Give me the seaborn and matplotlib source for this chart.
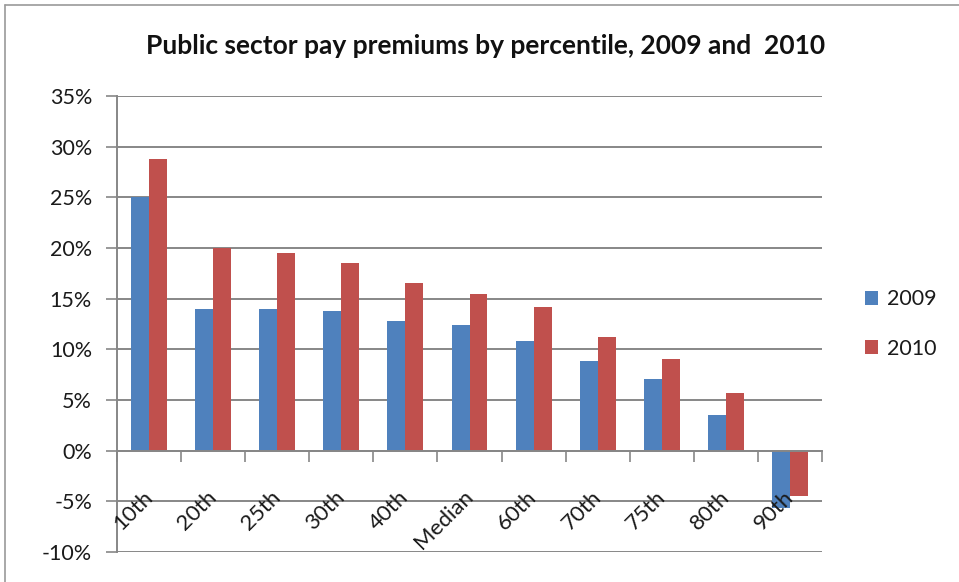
import numpy as np
import pandas as pd
import matplotlib
matplotlib.use("Agg")
import matplotlib.pyplot as plt
from matplotlib.lines import Line2D
from matplotlib.ticker import FuncFormatter
from matplotlib.transforms import ScaledTranslation
import seaborn as sns

# Public sector pay premium (%) by percentile of the pay distribution
percentiles = ["10th", "20th", "25th", "30th", "40th", "Median",
               "60th", "70th", "75th", "80th", "90th"]
premium_2009 = [25.0, 14.0, 14.0, 13.8, 12.8, 12.4, 10.8, 8.8, 7.1, 3.5, -5.7]
premium_2010 = [28.8, 20.0, 19.5, 18.5, 16.5, 15.5, 14.2, 11.2, 9.0, 5.7, -4.5]
years = ["2009", "2010"]
y_ticks = [-10, -5, 0, 5, 10, 15, 20, 25, 30, 35]

df = pd.DataFrame({
    "percentile": percentiles * 2,
    "premium": premium_2009 + premium_2010,
    "year": [years[0]] * len(percentiles) + [years[1]] * len(percentiles),
})

sns.set_style("white")
plt.rcParams["font.family"] = ["Lato", "DejaVu Sans"]
plt.rcParams["axes.unicode_minus"] = False

GRID = "#878787"
TEXT = "#1a1a1a"
fig = plt.figure(figsize=(9.59, 5.82), dpi=100)
ax = fig.add_axes([117 / 959, 1 - 552 / 582, (822 - 117) / 959, (552 - 96) / 582])

sns.barplot(data=df, x="percentile", y="premium", hue="year",
            palette={"2009": "#4F81BD", "2010": "#C0504D"},
            width=0.56, linewidth=0, saturation=1, ax=ax, zorder=1.5)

ax.set_ylim(y_ticks[0], y_ticks[-1])
ax.set_xlim(-0.5, len(percentiles) - 0.5)
ax.set_yticks(y_ticks)
ax.yaxis.set_major_formatter(FuncFormatter(lambda v, _: f"{v:.0f}%"))
ax.set_xlabel("")
ax.set_ylabel("")

# horizontal gridlines sit behind the bars; axis labels stay on top of them
ax.grid(False)
for v in y_ticks:
    ax.axhline(v, color=GRID, linewidth=1.4, zorder=0.5)
ax.set_axisbelow(False)

for s in ("top", "right"):
    ax.spines[s].set_visible(False)
ax.spines["left"].set_color(GRID)
ax.spines["left"].set_linewidth(1.4)
ax.spines["bottom"].set_position(("data", 0))
ax.spines["bottom"].set_color(GRID)
ax.spines["bottom"].set_linewidth(1.4)

ax.tick_params(axis="y", which="major", direction="out", length=8, width=1.2,
               color=GRID, left=True, labelsize=15.5, pad=10, labelcolor=TEXT)
ax.set_xticks(np.arange(-0.5, len(percentiles), 1.0), minor=True)
ax.tick_params(axis="x", which="minor", direction="out", length=8, width=1.2,
               color=GRID, bottom=True)
ax.tick_params(axis="x", which="major", length=0, pad=26, labelsize=16,
               labelcolor=TEXT)
shift = ScaledTranslation(-5 / 72, 0, fig.dpi_scale_trans)
for lbl in ax.get_xticklabels():
    lbl.set_rotation(45)
    lbl.set_ha("right")
    lbl.set_va("top")
    lbl.set_rotation_mode("anchor")
    lbl.set_transform(lbl.get_transform() + shift)

handles, labels = ax.get_legend_handles_labels()
ax.legend(handles, labels, loc="center left", bbox_to_anchor=(854 / 959, 1 - 324 / 582),
          bbox_transform=fig.transFigure, frameon=False, fontsize=15.5,
          handlelength=0.6, handleheight=0.6, handletextpad=0.45,
          labelspacing=1.35, borderpad=0, labelcolor=TEXT)

fig.text(486 / 959, 1 - 46 / 582, "Public sector pay premiums by percentile, 2009 and  2010",
         ha="center", va="center", fontsize=19, fontweight="bold", color="#111111")

# chart frame (left and top edges)
fig.add_artist(Line2D([4.5 / 959, 4.5 / 959], [0, 1 - 4.5 / 582], transform=fig.transFigure,
                      color="#9a9a9a", linewidth=1.2))
fig.add_artist(Line2D([4.5 / 959, 1], [1 - 4.5 / 582, 1 - 4.5 / 582], transform=fig.transFigure,
                      color="#9a9a9a", linewidth=1.2))

fig.savefig("out.png", dpi=100, facecolor="white")
